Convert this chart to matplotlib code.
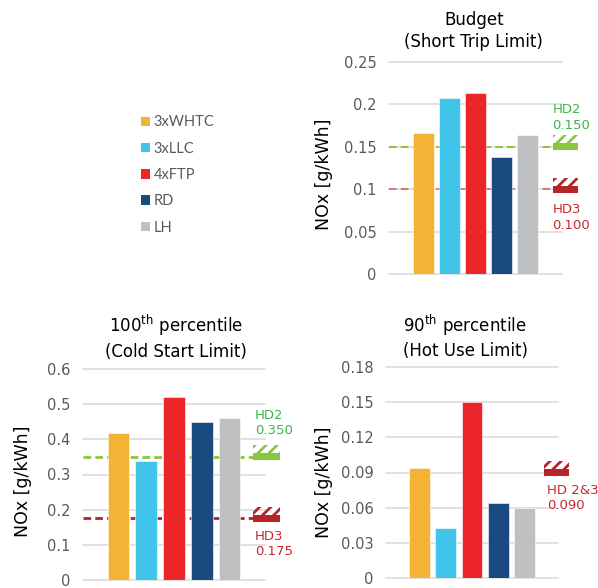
import matplotlib
matplotlib.use("Agg")
import matplotlib.pyplot as plt
from matplotlib.patches import Rectangle, Patch
from matplotlib.transforms import blended_transform_factory

# ---- data -------------------------------------------------------------
series = ["3xWHTC", "3xLLC", "4xFTP", "RD", "LH"]
colors = ["#f5b335", "#40c4e9", "#ec2528", "#1b4a80", "#bfc0c2"]

budget = [0.166, 0.208, 0.213, 0.138, 0.164]
p100 = [0.417, 0.337, 0.519, 0.450, 0.461]
p90 = [0.094, 0.043, 0.150, 0.064, 0.060]

budget_ticks = [0, 0.05, 0.1, 0.15, 0.2, 0.25]
p100_ticks = [0, 0.1, 0.2, 0.3, 0.4, 0.5, 0.6]
p90_ticks = [0, 0.03, 0.06, 0.09, 0.12, 0.15, 0.18]
budget_tick_labels = ["0", "0.05", "0.1", "0.15", "0.2", "0.25"]
p100_tick_labels = ["0", "0.1", "0.2", "0.3", "0.4", "0.5", "0.6"]
p90_tick_labels = ["0", "0.03", "0.06", "0.09", "0.12", "0.15", "0.18"]

budget_limits = {"HD2": 0.150, "HD3": 0.100}
p100_limits = {"HD2": 0.350, "HD3": 0.175}
p90_limits = {"HD 2&3": 0.090}

GREEN_MARK = "#8cc63f"
GREEN_TEXT = "#3cb64b"
RED_MARK = "#b5232b"
RED_TEXT = "#c9272e"
GRID = "#d9d9d9"
TICK = "#595959"

W, H = 598, 588
fig = plt.figure(figsize=(W / 100, H / 100), dpi=100)


def px_axes(left, top, right, bottom):
    return fig.add_axes([left / W, (H - bottom) / H, (right - left) / W, (bottom - top) / H])


def setup(ax, values, ticks, tick_labels, xpad):
    x = list(range(len(values)))
    ax.bar(x, values, width=0.79, color=colors, edgecolor="white", linewidth=0.4, zorder=3)
    ax.set_xlim(-xpad, len(values) - 1 + xpad)
    ax.set_ylim(0, ticks[-1])
    ax.set_yticks(ticks)
    ax.set_yticklabels(tick_labels)
    for t in ticks:
        ax.axhline(t, color=GRID, lw=1.1, zorder=0, clip_on=False)
    ax.set_xticks([])
    for s in ax.spines.values():
        s.set_visible(False)
    ax.tick_params(axis="y", length=0, pad=9, labelsize=10.5, labelcolor=TICK)
    ax.patch.set_alpha(0)


def limit(ax, value, x0, x1, mark_color, dash_color=None, dash_lw=1.5):
    trans = blended_transform_factory(ax.transAxes, ax.transData)
    bbox = ax.get_position()
    dpp = ax.get_ylim()[1] / (bbox.height * H)
    solid_h = 7 * dpp
    hatch_h = 8 * dpp
    if dash_color is not None:
        ax.plot([0, x0], [value, value], transform=trans, color=dash_color, lw=dash_lw,
                ls=(0, (5.5 / dash_lw, 3.0 / dash_lw)), zorder=2, clip_on=False)
    ax.add_patch(Rectangle((x0, value - solid_h / 2), x1 - x0, solid_h, transform=trans,
                           facecolor=mark_color, edgecolor=mark_color, lw=0,
                           clip_on=False, zorder=4))
    ax.add_patch(Rectangle((x0, value + solid_h / 2), x1 - x0, hatch_h, transform=trans,
                           facecolor="none", edgecolor=mark_color, hatch="///", lw=0,
                           clip_on=False, zorder=4))


def limit_label(ax, name, value, xf, yf, color):
    ax.text(xf, yf, f"{name}\n{value:.3f}", transform=ax.transAxes, color=color,
            fontsize=9.5, ha="left", va="center", linespacing=1.25, clip_on=False)


plt.rcParams["hatch.linewidth"] = 2.0

# ---- Budget (top right) ----------------------------------------------
ax1 = px_axes(389, 62, 562, 274)
setup(ax1, budget, budget_ticks, budget_tick_labels, 1.33)
limit(ax1, budget_limits["HD2"], 0.948, 1.092, GREEN_MARK, GREEN_MARK, 1.5)
limit(ax1, budget_limits["HD3"], 0.948, 1.092, RED_MARK, "#e0554f", 1.1)
limit_label(ax1, "HD2", budget_limits["HD2"], 0.944, (274 - 117.5) / 212, GREEN_TEXT)
limit_label(ax1, "HD3", budget_limits["HD3"], 0.944, (274 - 217.5) / 212, RED_TEXT)
ax1.text(0.49, 1.148, "Budget\n(Short Trip Limit)", transform=ax1.transAxes,
         ha="center", va="center", fontsize=12, linespacing=1.3)
ax1.set_ylabel("NOx [g/kWh]", fontsize=12.5, color="black")
ax1.yaxis.set_label_coords(-0.324, 0.472)

# ---- 100th percentile (bottom left) ------------------------------------
ax2 = px_axes(83, 369, 265, 580)
setup(ax2, p100, p100_ticks, p100_tick_labels, 1.28)
limit(ax2, p100_limits["HD2"], 0.934, 1.082, GREEN_MARK, GREEN_MARK, 2.0)
limit(ax2, p100_limits["HD3"], 0.934, 1.082, RED_MARK, RED_MARK, 2.0)
limit_label(ax2, "HD2", p100_limits["HD2"], 0.945, (580 - 423) / 211, GREEN_TEXT)
limit_label(ax2, "HD3", p100_limits["HD3"], 0.945, (580 - 544) / 211, RED_TEXT)
ax2.text(0.51, 1.152, "100$^{\\mathrm{th}}$ percentile\n(Cold Start Limit)", transform=ax2.transAxes,
         ha="center", va="center", fontsize=12, linespacing=1.3)
ax2.set_ylabel("NOx [g/kWh]", fontsize=12.5, color="black")
ax2.yaxis.set_label_coords(-0.282, 0.466)

# ---- 90th percentile (bottom right) ------------------------------------
ax3 = px_axes(386, 366.7, 558, 578.3)
setup(ax3, p90, p90_ticks, p90_tick_labels, 1.28)
limit(ax3, p90_limits["HD 2&3"], 0.919, 1.064, RED_MARK)
limit_label(ax3, "HD 2&3", p90_limits["HD 2&3"], 0.934, (578.3 - 498) / 211.6, RED_TEXT)
ax3.text(0.46, 1.145, "90$^{\\mathrm{th}}$ percentile\n(Hot Use Limit)", transform=ax3.transAxes,
         ha="center", va="center", fontsize=12, linespacing=1.3)
ax3.set_ylabel("NOx [g/kWh]", fontsize=12.5, color="black")
ax3.yaxis.set_label_coords(-0.308, 0.456)

# ---- legend --------------------------------------------------------------
handles = [Patch(facecolor=c, edgecolor="none") for c in colors]
fig.legend(handles, series, loc="upper left", bbox_to_anchor=(141 / W, (H - 115.5) / H),
           frameon=False, borderpad=0, borderaxespad=0, handlelength=0.62, handleheight=0.62,
           handletextpad=0.25, labelspacing=0.84,
           prop={"family": "Lato", "size": 10.5}, labelcolor=TICK)

fig.savefig("out.png", dpi=100)
